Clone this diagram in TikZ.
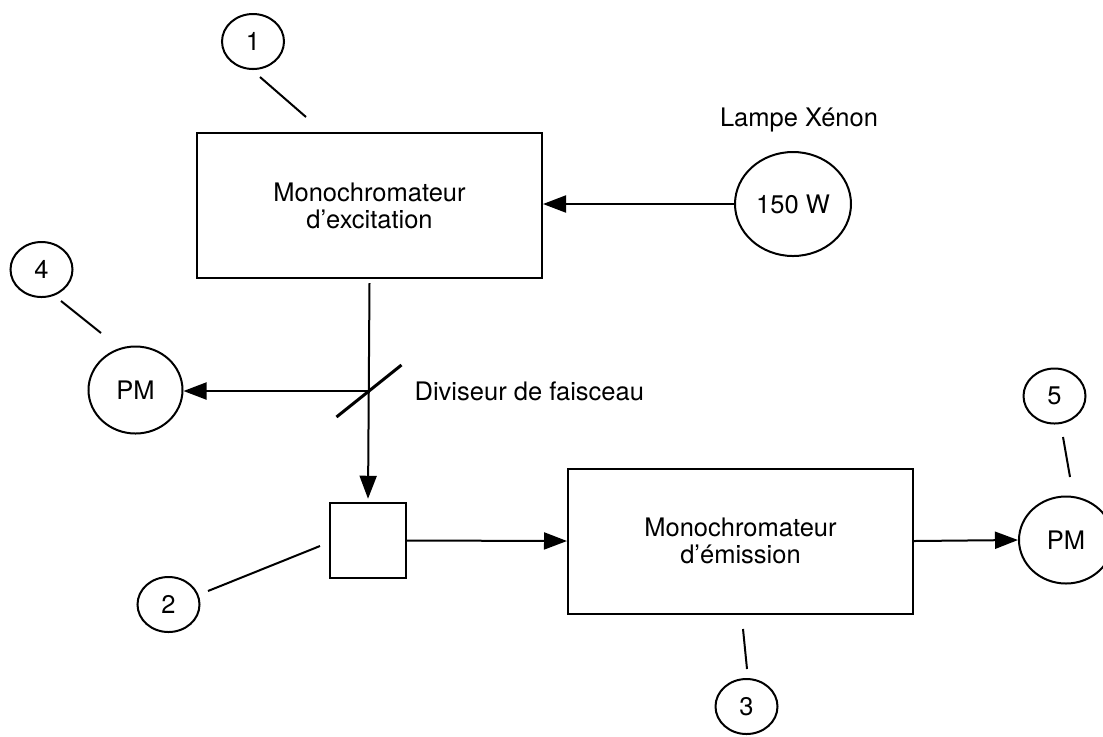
\documentclass[tikz,border=0pt]{standalone}
\usepackage{fontspec}
\setmainfont{TeX Gyre Heros}
\usetikzlibrary{arrows.meta,positioning,shapes.geometric}

\begin{document}
\begin{tikzpicture}[x=0.5pt,y=-0.5pt,line width=1pt,
		font=\fontsize{12.75}{13.5}\selectfont,
		beam/.style={-{Triangle[length=11.5pt,width=8.5pt]}},
		bloc/.style={draw,rectangle,minimum width=172.5pt,minimum height=72.5pt,align=center,inner sep=0pt},
		rond/.style={draw,ellipse,inner sep=0pt},
		numero/.style={rond,minimum width=31pt,minimum height=27.5pt},
		detecteur/.style={rond,minimum width=47pt,minimum height=43.5pt}]
		\useasboundingbox (0,0) rectangle (1103,736);
		% blocs
		\node[bloc] (excit) at (369.5,205.5) {Monochromateur\\d'excitation};
		\node[bloc] (emis)  at (740.5,541)   {Monochromateur\\d'émission};
		\node[draw,minimum size=37.75pt] (cuve) at (368,540.5) {};
		\node[rond,minimum width=58pt,minimum height=52pt] (lampe) at (793,204) {150 W};
		\node (nomlampe) at (799,120) {Lampe Xénon};
		\node[detecteur] (pmg) at (135.5,390) {PM};
		\node[detecteur] (pmd) at (1066,540)  {PM};
		\coordinate (div) at (369,391);
		\node[right=19pt of div] (nomdiv) {Diviseur de faisceau};
		% reperes
		\node[numero] (n1) at (253,41.5)   {1};
		\node[numero] (n2) at (168.5,604.5) {2};
		\node[numero] (n3) at (746.5,706.5) {3};
		\node[numero] (n4) at (41.5,269.5)  {4};
		\node[numero] (n5) at (1054.5,396)  {5};
		\coordinate (a1) at (260,77);   \coordinate (b1) at (306,117);
		\coordinate (a2) at (208,591);  \coordinate (b2) at (320,546);
		\coordinate (a3) at (743,629);  \coordinate (b3) at (747,669);
		\coordinate (a4) at (61,301);   \coordinate (b4) at (101,333);
		\coordinate (a5) at (1063,437); \coordinate (b5) at (1070,477);
		\foreach \i in {1,...,5}
			\draw (a\i) -- (b\i);
		% faisceaux
		\draw[beam] (lampe.west) -- (lampe.west -| excit.east);
		\draw[beam,shorten >=1.5pt] ([yshift=-2pt]excit.south) -- (cuve.north);
		\draw[line width=1.5pt] (div) +(-32.5,26) -- +(32.5,-26);
		\draw[beam] (div) -- (div -| pmg.east);
		\draw[beam] (cuve.east) -- (emis.west);
		\draw[beam] (emis.east) -- (pmd.west);
	\end{tikzpicture}
\end{document}
